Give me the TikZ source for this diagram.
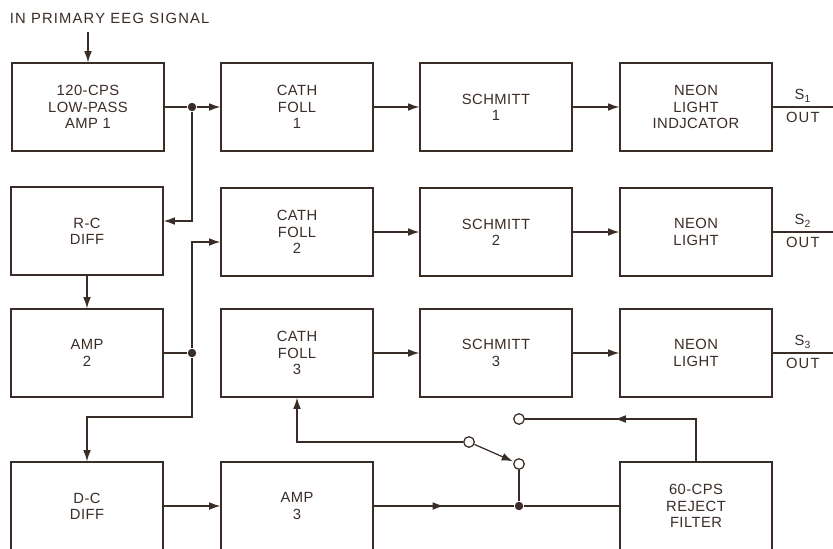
\documentclass[tikz,border=0pt]{standalone}
\usepackage{fontspec}
\setmainfont{Liberation Sans}
\usepackage{tikz}
\usetikzlibrary{positioning, arrows.meta, calc, decorations.markings}
\definecolor{EEGInk}{RGB}{58,44,38}

\begin{document}
\begin{tikzpicture}[x=0.025cm, y=-0.025cm, line width=0.9pt, draw=EEGInk,
          blk/.style={rectangle, draw=EEGInk, minimum width=3.8cm,
                      minimum height=2.2cm, align=center, text=EEGInk,
                      font=\fontsize{10.5}{11.6}\selectfont\addfontfeature{LetterSpace=3}},
          arr/.style={-{Latex[length=8pt,width=5.5pt]}, draw=EEGInk},
          midarr/.style={postaction={decorate}, decoration={markings,
                      mark=at position #1 with {\arrow{Latex[length=8pt,width=5.5pt]}}}},
          midarr/.default=0.5,
          dot/.style={circle, fill=EEGInk, inner sep=0pt, minimum size=6pt},
          cont/.style={circle, draw=EEGInk, fill=white, inner sep=0pt,
                       minimum size=7.5pt},
          lbl/.style={text=EEGInk, inner sep=3pt,
                      font=\fontsize{10.5}{12}\selectfont\addfontfeature{LetterSpace=8}}
        ]
        \clip (0,0) rectangle (833,548);

        \node[lbl, anchor=west] (insig) at (5,18) {IN PRIMARY EEG SIGNAL};
        \coordinate (ein) at (88,32);

        % Left column, top to bottom
        \node[blk] (lp)   at (88,107)  {120-CPS\\LOW-PASS\\AMP 1};
        \node[blk] (rc)   at (87,231)  {R-C\\DIFF};
        \node[blk] (amp2) at (87,353)  {AMP\\2};
        \node[blk] (dc)   at (87,506)  {D-C\\DIFF};

        % Cathode followers and amp 3
        \node[blk] (cf1)  at (297,107) {CATH\\FOLL\\1};
        \node[blk] (cf2)  at (297,232) {CATH\\FOLL\\2};
        \node[blk] (cf3)  at (297,353) {CATH\\FOLL\\3};
        \node[blk] (amp3) at (297,506) {AMP\\3};

        % Schmitt triggers
        \node[blk] (sch1) at (496,107) {SCHMITT\\1};
        \node[blk] (sch2) at (496,232) {SCHMITT\\2};
        \node[blk] (sch3) at (496,353) {SCHMITT\\3};

        % Indicators
        \node[blk] (neon1) at (696,107) {NEON\\LIGHT\\INDJCATOR};
        \node[blk] (neon2) at (696,232) {NEON\\LIGHT};
        \node[blk] (neon3) at (696,353) {NEON\\LIGHT};
        \node[blk] (rej)   at (696,506) {60-CPS\\REJECT\\FILTER};

        % Junctions and switch
        \node[dot] (j1) at (192,107) {};
        \node[dot] (j2) at (192,353) {};
        \node[dot] (j3) at (519,506) {};
        \coordinate (bend) at (192,417);
        \node[cont] (swp) at (469,442) {};
        \node[cont] (swa) at (519,464) {};
        \node[cont] (swb) at (519,419) {};

        \coordinate (o1) at (833,107);
        \coordinate (o2) at (833,232);
        \coordinate (o3) at (833,353);

        \draw[arr] (ein) -- (lp.north);
        \draw (lp.east) -- (j1);
        \draw[arr] (j1) -- (cf1.west);
        \draw[arr] (j1) |- ([yshift=0.25cm]rc.east);
        \draw[arr] (rc.south) -- (amp2.north);
        \draw (amp2.east) -- (j2);
        \draw[arr] (j2) |- ([yshift=-0.25cm]cf2.west);
        \draw[arr] (j2) -- (bend) -| (dc.north);
        \draw[arr] (dc.east) -- (amp3.west);

        % Rows to the outputs
        \foreach \r in {1,2,3} {
          \draw[arr] (cf\r.east) -- (sch\r.west);
          \draw[arr] (sch\r.east) -- (neon\r.west);
          \draw (neon\r.east) -- (o\r)
                node[lbl, midway, above] {S\textsubscript{\r}}
                node[lbl, midway, below] {OUT};
        }

        % 60-cps reject path
        \draw[midarr] (amp3.east) -- (j3);
        \draw (j3) -- (rej.west);
        \draw (j3) -- (swa);
        \draw[arr, shorten >=0.5pt] (swp) -- (swa);
        \draw[arr] (swp.west) -| (cf3.south);
        \draw[midarr=0.58] (rej.north) |- (swb.east);
      \end{tikzpicture}
\end{document}
